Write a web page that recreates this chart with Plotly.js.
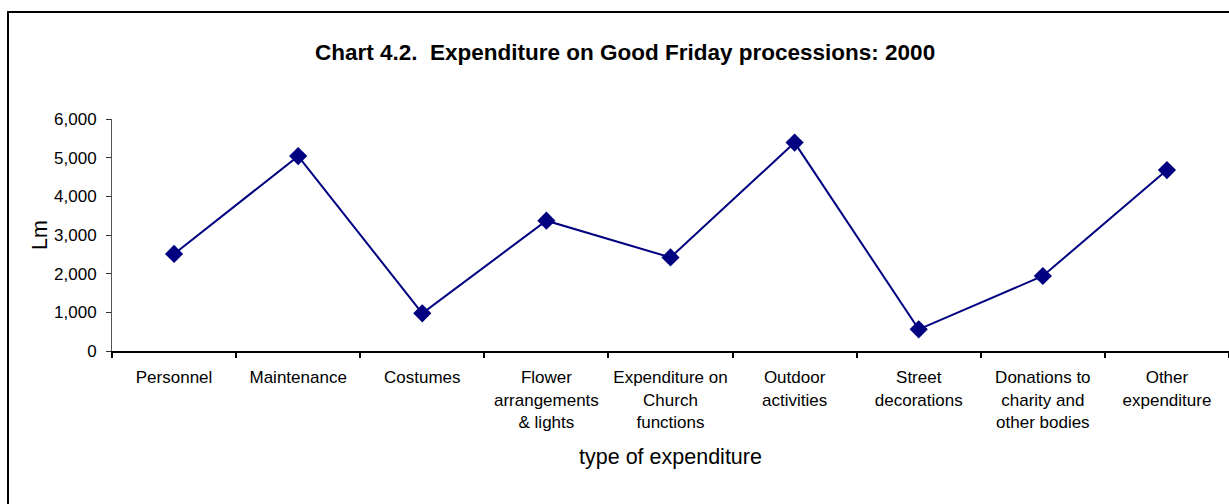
<!DOCTYPE html>
<html>
<head>
<meta charset="utf-8">
<script src="https://cdn.plot.ly/plotly-3.0.1.min.js"></script>
<style>
html, body { margin: 0; padding: 0; background: #fff; }
#chart { width: 1229px; height: 504px; }
</style>
</head>
<body>
<div id="chart"></div>
<script>
const categories = [
  "Personnel",
  "Maintenance",
  "Costumes",
  "Flower<br>arrangements<br>&amp; lights",
  "Expenditure on<br>Church<br>functions",
  "Outdoor<br>activities",
  "Street<br>decorations",
  "Donations to<br>charity and<br>other bodies",
  "Other<br>expenditure"
];
const expenditureLm = [2510, 5040, 975, 3370, 2420, 5390, 560, 1940, 4680];
const yTickValues = [0, 1000, 2000, 3000, 4000, 5000, 6000];

const FONT = "Liberation Sans, Arial, sans-serif";

const trace = {
  type: "scatter",
  mode: "lines+markers",
  x: categories,
  y: expenditureLm,
  line: { color: "#000080", width: 2 },
  marker: { symbol: "diamond", size: 14, color: "#000080" },
  hoverinfo: "x+y"
};

const layout = {
  width: 1229,
  height: 504,
  margin: { l: 112, r: 0, t: 119, b: 153, pad: 0 },
  paper_bgcolor: "#ffffff",
  plot_bgcolor: "#ffffff",
  showlegend: false,
  font: { family: FONT, color: "#000000", size: 17 },
  title: {
    text: "<b>Chart 4.2.  Expenditure on Good Friday processions: 2000</b>",
    font: { family: FONT, size: 22.5, color: "#000000" },
    x: 0.5086, xref: "container", xanchor: "center",
    y: 0.897, yref: "container", yanchor: "middle"
  },
  xaxis: {
    type: "category",
    range: [-0.5, 8.5],
    showgrid: false,
    zeroline: false,
    showline: true,
    linecolor: "#000000",
    linewidth: 2,
    ticks: "outside",
    tickson: "boundaries",
    ticklen: 5,
    tickwidth: 2,
    tickcolor: "#000000",
    tickangle: 0,
    tickfont: { family: FONT, size: 17, color: "#000000" },
    ticklabelstandoff: 10,
    title: { text: "type of expenditure", font: { family: FONT, size: 21.5, color: "#000000" }, standoff: 18 },
    fixedrange: true
  },
  yaxis: {
    range: [0, 6000],
    tickvals: yTickValues,
    tickformat: ",d",
    showgrid: false,
    zeroline: false,
    showline: true,
    linecolor: "#555555",
    linewidth: 1,
    ticks: "outside",
    ticklen: 5,
    tickwidth: 1,
    tickcolor: "#333333",
    tickfont: { family: FONT, size: 17, color: "#000000" },
    ticklabelstandoff: 6,
    title: { text: "Lm", font: { family: FONT, size: 21.5, color: "#000000" }, standoff: 0 },
    fixedrange: true
  },
  shapes: [{
    type: "rect",
    xref: "paper", yref: "paper",
    x0: (8 - 112) / 1117, x1: 1.02,
    y0: -0.7, y1: (351 - 12) / 232,
    line: { color: "#000000", width: 2 },
    fillcolor: "rgba(0,0,0,0)",
    layer: "below"
  }]
};

Plotly.newPlot("chart", [trace], layout, { displayModeBar: false, staticPlot: true });
</script>
</body>
</html>
